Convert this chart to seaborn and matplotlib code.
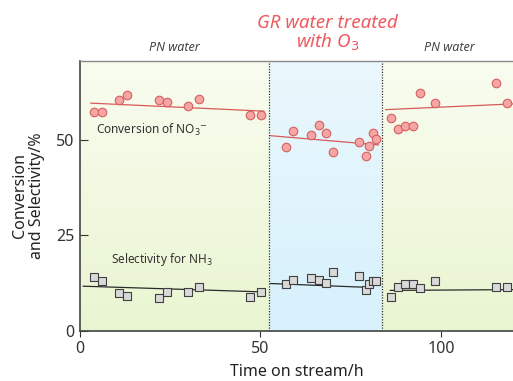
import numpy as np
import pandas as pd
import matplotlib.pyplot as plt
import seaborn as sns

# Time on stream (h) and measured values, per water period
t_pn1 = [3.9, 6.0, 10.9, 12.9, 21.9, 24.1, 30.0, 32.9, 47.1, 50.1]
conv_pn1 = [57.1, 57.3, 60.3, 61.5, 60.3, 59.7, 58.7, 60.7, 56.3, 56.4]
sel_pn1 = [14.0, 13.1, 10.0, 9.2, 8.7, 10.1, 10.1, 11.5, 8.9, 10.1]

t_gr = [57.1, 59.1, 64.1, 66.1, 68.1, 70.2, 77.2, 79.2, 80.1, 81.1, 82.1]
conv_gr = [48.0, 52.3, 51.2, 53.7, 51.7, 46.7, 49.3, 45.8, 48.4, 51.7, 50.2]
sel_gr = [12.2, 13.3, 13.9, 13.3, 12.6, 15.4, 14.3, 10.8, 12.2, 13.0, 13.0]

t_pn2 = [86.2, 88.2, 90.2, 92.2, 94.2, 98.3, 115.3, 118.2]
conv_pn2 = [55.6, 52.8, 53.6, 53.6, 62.1, 59.6, 64.7, 59.5]
sel_pn2 = [8.9, 11.5, 12.2, 12.4, 11.3, 13.1, 11.4, 11.5]

# trend lines as drawn in the figure: (start h, end h) and values at both ends
trend_t = [(3.0, 51.0), (52.8, 82.7), (84.7, 120.0)]
trend_conv = [(59.5, 57.4), (51.0, 48.6), (57.8, 59.3)]
trend_t_sel = [(0.9, 51.0), (52.8, 79.5), (86.0, 120.0)]
trend_sel = [(11.7, 10.2), (12.4, 11.4), (10.6, 10.8)]

# period boundaries (h)
bounds = [0, 52.5, 83.7, 120]
period_names = ["PN water", "GR water treated\nwith O$_3$", "PN water"]

segments = [
    (t_pn1, conv_pn1, sel_pn1),
    (t_gr, conv_gr, sel_gr),
    (t_pn2, conv_pn2, sel_pn2),
]

plt.rcParams["font.family"] = ["Noto Sans", "DejaVu Sans"]

fig = plt.figure(figsize=(5.13, 3.81), dpi=100)
ax = fig.add_axes([80 / 513, 50 / 381, 433 / 513, 270 / 381])
ax.set_xlim(0, 120)
ax.set_ylim(0, 70.5)

# background bands with a soft vertical gradient
green = np.array([[0.975, 0.99, 0.94], [0.915, 0.962, 0.82]])
blue = np.array([[0.92, 0.97, 0.99], [0.84, 0.945, 0.99]])
grad = np.linspace(0, 1, 64)[:, None]
for i, (x0, x1) in enumerate(zip(bounds[:-1], bounds[1:])):
    c = blue if i == 1 else green
    img = (c[0] * (1 - grad) + c[1] * grad)[:, None, :]
    ax.imshow(img, extent=(x0, x1, 0, 70.5), aspect="auto", zorder=0,
              interpolation="bilinear", origin="upper")
for b in bounds[1:-1]:
    ax.axvline(b, color="#333333", lw=0.9, ls=(0, (1, 1.2)), zorder=1)

# points per period
for ts, conv, sel in segments:
    df = pd.DataFrame({"t": ts, "conv": conv, "sel": sel})
    sns.scatterplot(data=df, x="t", y="conv", ax=ax, marker="o", s=38,
                    color="#f6a5a5", edgecolor="#d46060", linewidth=0.8, zorder=4)
    sns.scatterplot(data=df, x="t", y="sel", ax=ax, marker="s", s=34,
                    color="#d9d9d9", edgecolor="#404040", linewidth=0.8, zorder=4)

# trend lines
for tc, vc, ts_, vs in zip(trend_t, trend_conv, trend_t_sel, trend_sel):
    sns.lineplot(x=list(tc), y=list(vc), ax=ax, color="#d85a5a", lw=0.9, zorder=3)
    sns.lineplot(x=list(ts_), y=list(vs), ax=ax, color="#2a2a2a", lw=0.9, zorder=3)

ax.text(4.5, 52.5, "Conversion of NO$_3$$^{-}$", fontsize=8.5, color="#333333",
        va="center", zorder=5)
ax.text(8.5, 18.8, "Selectivity for NH$_3$", fontsize=8.5, color="#333333",
        va="center", zorder=5)

# period labels above the plot
for i, name in enumerate(period_names):
    xc = (bounds[i] + bounds[i + 1]) / 2
    if i == 1:
        ax.text(xc + 0.5, 1.03, name, transform=ax.get_xaxis_transform(),
                ha="center", va="bottom", style="italic", fontsize=13.5,
                color="#ee5a5e", linespacing=0.95)
    else:
        ax.text(xc + (0 if i == 0 else 0.5), 1.025, name,
                transform=ax.get_xaxis_transform(), ha="center", va="bottom",
                style="italic", fontsize=9, color="#444444")

ax.set_xticks([0, 50, 100])
ax.set_yticks([0, 25, 50])
ax.tick_params(axis="x", direction="out", length=4, labelsize=11.5,
               color="#333333", labelcolor="#333333", pad=3)
ax.tick_params(axis="y", direction="in", length=6, labelsize=11.5,
               color="#333333", labelcolor="#333333", pad=4)
ax.set_xlabel("Time on stream/h", fontsize=11.5, color="#222222", labelpad=5)
ax.set_ylabel("Conversion\nand Selectivity/%", fontsize=11.5, color="#222222",
              labelpad=8, linespacing=1.1)

for side in ("left", "bottom"):
    ax.spines[side].set_color("#444444")
    ax.spines[side].set_linewidth(1.2)
ax.spines["top"].set_color("#888888")
ax.spines["top"].set_linewidth(1.0)
ax.spines["right"].set_visible(False)

fig.savefig("out.png", dpi=100)
